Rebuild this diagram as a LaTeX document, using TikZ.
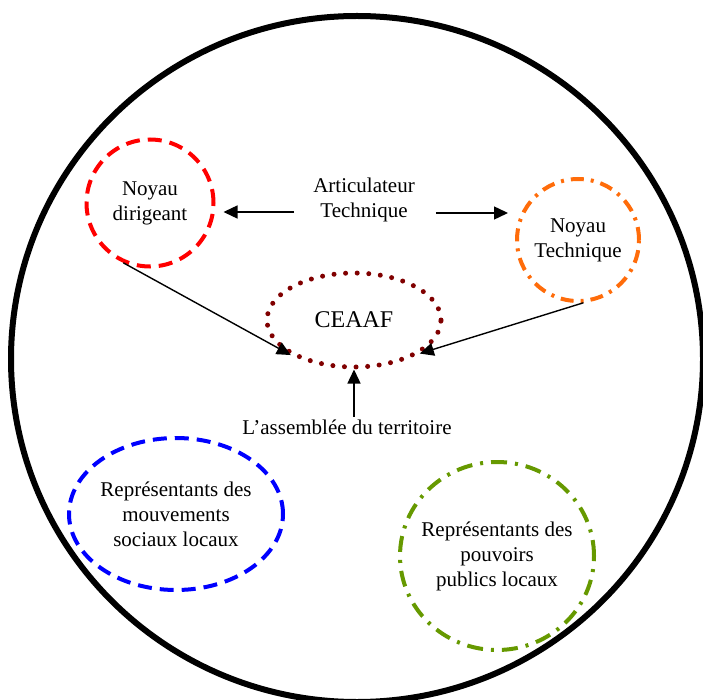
\documentclass[tikz,border=0pt]{standalone}
\usepackage{fontspec}
\setmainfont{Liberation Serif}
\usepackage{tikz}
\usetikzlibrary{arrows.meta,calc,positioning,shapes.geometric}
\newdimen\bdim
\bdim=4pt
\definecolor{dirigeantred}{RGB}{255,0,0}
\definecolor{techniqueorange}{RGB}{255,108,10}
\definecolor{ceaafred}{RGB}{128,0,0}
\definecolor{mouvementblue}{RGB}{0,0,255}
\definecolor{pouvoirgreen}{RGB}{102,153,0}
\tikzstyle{entity}=[
  font={\fontsize{21}{25}\selectfont},
  align=center,
  inner sep=0pt,
  line width=\bdim,
]
\tikzstyle{arrow}=[
  draw=black,
  line width=1.4pt,
  -{Triangle[length=14pt,width=13pt]},
]
\tikzstyle{textlabel}=[
  font={\fontsize{21}{25}\selectfont},
  align=center,
  inner sep=3pt,
]
\tikzset{
  x=1pt,
  y=-1pt,
}

\begin{document}
\begin{tikzpicture}
      \useasboundingbox (0,0) rectangle (703,700);
      \draw [line width=6pt] (357,359) ellipse [x radius=346, y radius=343];
      %%
      \node (dirigeant) [entity, circle, draw=dirigeantred, dash pattern=on 14pt off 8pt, minimum size=127pt] at (150,203) {Noyau\\dirigeant};
      \node (articulateur) [textlabel] at (364,200) {Articulateur\\Technique};
      \node (technique) [entity, circle, draw=techniqueorange, dash pattern=on 13pt off 7pt on 3pt off 7pt, minimum size=122pt] at (578,240) {Noyau\\Technique};
      \node (ceaaf) [entity, ellipse, draw=ceaafred, line width=5pt, line cap=round, dash pattern=on 0pt off 11.6pt, minimum width=174pt, minimum height=94pt, font={\fontsize{24}{28}\selectfont}] at (354,320) {CEAAF};
      \node (assemblee) [textlabel, below=47pt of ceaaf, xshift=-7pt] {L’assemblée du territoire};
      %%
      \node (mouvements) [entity, ellipse, draw=mouvementblue, dash pattern=on 14pt off 8pt, minimum width=214pt, minimum height=152pt] at (176,514) {Représentants des\\mouvements\\sociaux locaux};
      \node (pouvoirs) [entity, ellipse, inner xsep=-12pt, draw=pouvoirgreen, dash pattern=on 16pt off 8pt on 3pt off 8pt, minimum width=194pt, minimum height=188pt] at (497,556) {Représentants des\\pouvoirs\\publics locaux};
      %%
      \coordinate (A) at ($(articulateur.west)+(-16,12)$);
      \coordinate (B) at ($(articulateur.east)+(18,13)$);
      \draw [arrow] (A) -- ($(dirigeant.east)+(8,9)$);
      \draw [arrow] (B) -- ($(technique.west)+(-7,-27)$);
      \draw [arrow] (dirigeant.246) -- (ceaaf.209);
      \draw [arrow] (technique.275) -- (ceaaf.333);
      \draw [arrow] (ceaaf.south |- assemblee.north) -- (ceaaf.south);
    \end{tikzpicture}
\end{document}
